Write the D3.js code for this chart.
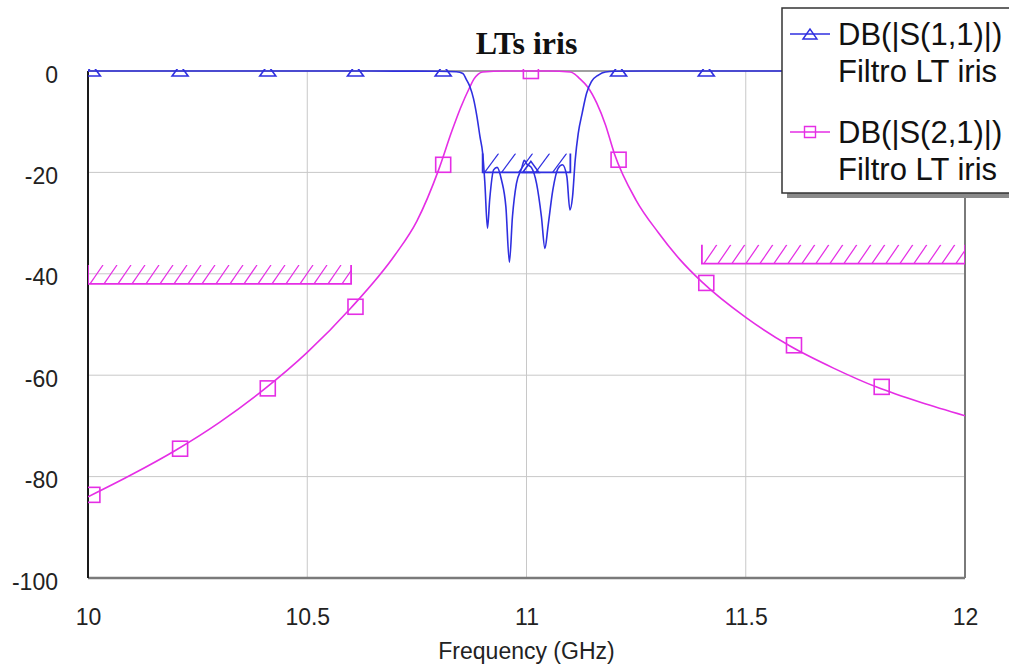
<!DOCTYPE html>
<html>
<head>
<meta charset="utf-8">
<script src="https://cdn.jsdelivr.net/npm/d3@7"></script>
<style>
  html, body { margin: 0; padding: 0; background: #fff; }
  svg { display: block; font-family: "Liberation Sans", Arial, sans-serif; }
</style>
</head>
<body>
<svg id="chart" width="1009" height="665"></svg>
<script>
const freqTicks = [10, 10.5, 11, 11.5, 12];
const dbTicks = [0, -20, -40, -60, -80, -100];

// DB(|S(2,1)|)
const s21Freq = [10, 10.1, 10.2, 10.3, 10.4, 10.5, 10.6, 10.7, 10.75, 10.8, 10.83, 10.85,
  10.87, 10.88, 10.89, 10.9, 10.95, 11.0, 11.05, 11.1, 11.11, 11.12, 11.14, 11.16,
  11.18, 11.2, 11.25, 11.3, 11.35, 11.4, 11.5, 11.6, 11.7, 11.8, 11.9, 12];
const s21Db = [-84, -79.6, -74.8, -69.3, -62.9, -55.5, -46.7, -36.3, -29.6, -19.4, -11.8, -7.2,
  -3.3, -1.6, -0.6, -0.2, 0, 0, 0, -0.2, -0.6, -1.4, -3.2, -6.3,
  -10.6, -16.2, -25.5, -31.8, -37.2, -41.6, -48.6, -54.2, -58.6, -62.4, -65.4, -68];

// DB(|S(1,1)|)
const s11Freq = [10, 10.2, 10.4, 10.6, 10.7, 10.8, 10.84, 10.855, 10.863, 10.871, 10.879,
  10.887, 10.894, 10.9, 10.905, 10.911, 10.916, 10.925, 10.933, 10.943, 10.953, 10.961,
  10.968, 10.977, 10.989, 10.995, 11.0, 11.011, 11.023, 11.034, 11.042, 11.049, 11.06,
  11.072, 11.082, 11.092, 11.099, 11.105, 11.111, 11.118, 11.127, 11.137, 11.148, 11.164,
  11.18, 11.2, 11.3, 11.4, 11.6, 11.8, 12];
const s11Db = [0, 0, 0, 0, -0.02, -0.05, -0.15, -0.5, -1.7, -3.1, -5.4,
  -9, -13, -16.2, -22, -31, -25.4, -19.5, -19, -21.5, -26.8, -37.7,
  -28.7, -22.2, -19.2, -17.6, -18.3, -19, -22.2, -28.7, -35, -30.7, -23.5,
  -19.2, -18.5, -20.8, -27.4, -24.8, -17.6, -12.3, -8.3, -4.4, -2.1, -0.8,
  -0.2, -0.05, 0, 0, 0, 0, 0];

// marker symbols (sit slightly right of the round frequencies)
const markerFreq = [10.01, 10.21, 10.41, 10.61, 10.81, 11.01, 11.21, 11.41, 11.61, 11.81];
const s21MarkerDb = [-83.6, -74.5, -62.6, -46.5, -18.5, 0, -17.5, -41.8, -54.1, -62.3];
const s11MarkerDb = [0, 0, 0, 0, 0, -19, 0, 0, 0, 0];

// goal masks
const maskSeries = ["s21", "s21", "s11"];
const maskStart = [10, 11.4, 10.9];
const maskEnd = [10.6, 12, 11.1];
const maskLevel = [-42, -38, -20];

const legendLabels = [["DB(|S(1,1)|)", "Filtro LT iris"], ["DB(|S(2,1)|)", "Filtro LT iris"]];

const BLUE = "#2f2fe0";
const MAGENTA = "#e52ee5";
const colors = { s11: BLUE, s21: MAGENTA };

const svg = d3.select("#chart");
const plotLeft = 88, plotRight = 965, plotTop = 71, plotBottom = 578;

const x = d3.scaleLinear().domain([10, 12]).range([plotLeft, plotRight]);
const y = d3.scaleLinear().domain([-100, 0]).range([plotBottom, plotTop]);

const defs = svg.append("defs");
defs.append("clipPath").attr("id", "plotClip")
  .append("rect")
  .attr("x", plotLeft).attr("y", plotTop - 2)
  .attr("width", plotRight - plotLeft).attr("height", plotBottom - plotTop + 2);

// grid
svg.append("g")
  .selectAll("line")
  .data(freqTicks.slice(1, -1))
  .join("line")
  .attr("x1", (d) => x(d)).attr("x2", (d) => x(d))
  .attr("y1", plotTop).attr("y2", plotBottom)
  .attr("stroke", "#c8c8c8").attr("stroke-width", 1);

svg.append("g")
  .selectAll("line")
  .data(dbTicks.slice(1, -1))
  .join("line")
  .attr("x1", plotLeft).attr("x2", plotRight)
  .attr("y1", (d) => y(d)).attr("y2", (d) => y(d))
  .attr("stroke", "#c8c8c8").attr("stroke-width", 1);

// frame
svg.append("line").attr("x1", plotLeft).attr("x2", plotRight).attr("y1", plotTop).attr("y2", plotTop)
  .attr("stroke", "#808080").attr("stroke-width", 1.5);
svg.append("line").attr("x1", plotLeft).attr("x2", plotRight).attr("y1", plotBottom).attr("y2", plotBottom)
  .attr("stroke", "#7a7a7a").attr("stroke-width", 2.5);
svg.append("line").attr("x1", plotRight).attr("x2", plotRight).attr("y1", plotTop).attr("y2", plotBottom)
  .attr("stroke", "#7a7a7a").attr("stroke-width", 2);
svg.append("line").attr("x1", plotLeft).attr("x2", plotLeft).attr("y1", plotTop).attr("y2", plotBottom)
  .attr("stroke", "#1a1a1a").attr("stroke-width", 2);

// axes (labels only)
svg.append("g")
  .attr("transform", `translate(0,${plotBottom})`)
  .call(d3.axisBottom(x).tickValues(freqTicks).tickSize(0).tickFormat((d) => String(d)))
  .call((g) => g.select(".domain").remove())
  .call((g) => g.selectAll("text")
    .attr("y", 47).attr("dy", null)
    .attr("font-size", 23).attr("fill", "#222")
    .attr("font-family", "'Liberation Sans', Arial, sans-serif"));

svg.append("g")
  .attr("transform", `translate(${plotLeft},0)`)
  .call(d3.axisLeft(y).tickValues(dbTicks).tickSize(0).tickFormat((d) => String(d)))
  .call((g) => g.select(".domain").remove())
  .call((g) => g.selectAll("text")
    .attr("x", -30).attr("dy", 11)
    .attr("font-size", 23).attr("fill", "#222")
    .attr("font-family", "'Liberation Sans', Arial, sans-serif"));

svg.append("text")
  .attr("x", (plotLeft + plotRight) / 2).attr("y", 659)
  .attr("text-anchor", "middle")
  .attr("font-size", 23).attr("fill", "#222")
  .text("Frequency (GHz)");

svg.append("text")
  .attr("x", (plotLeft + plotRight) / 2).attr("y", 54)
  .attr("text-anchor", "middle")
  .attr("font-family", "'Liberation Serif', 'Times New Roman', serif")
  .attr("font-weight", "bold").attr("font-size", 32).attr("fill", "#111")
  .text("LTs iris");

const plot = svg.append("g").attr("clip-path", "url(#plotClip)");

// masks with hatching
const hatchH = 19;
maskLevel.forEach((level, i) => {
  const color = colors[maskSeries[i]];
  const x0 = x(maskStart[i]), x1 = x(maskEnd[i]), yl = y(level);
  const step = maskSeries[i] === "s11" ? 17 : 14;
  const dx = maskSeries[i] === "s11" ? 14 : 13;
  const g = plot.append("g").attr("stroke", color).attr("fill", "none");
  const clipId = `maskClip${i}`;
  defs.append("clipPath").attr("id", clipId)
    .append("rect").attr("x", x0).attr("y", yl - hatchH).attr("width", x1 - x0).attr("height", hatchH);
  g.append("g").attr("clip-path", `url(#${clipId})`)
    .selectAll("line")
    .data(d3.range(x0 + 2, x1 + dx, step))
    .join("line")
    .attr("x1", (d) => d).attr("y1", yl)
    .attr("x2", (d) => d + dx).attr("y2", yl - hatchH)
    .attr("stroke-width", 1.2);
  g.append("path")
    .attr("d", `M${x0},${yl - hatchH}V${yl}H${x1}V${yl - hatchH}`)
    .attr("stroke-width", 1.8);
});

const lineGen = d3.line()
  .x((d) => x(d[0]))
  .y((d) => y(d[1]))
  .curve(d3.curveMonotoneX);

const s21Points = s21Freq.map((f, i) => [f, s21Db[i]]);
const s11Points = s11Freq.map((f, i) => [f, s11Db[i]]);

plot.append("path").datum(s21Points)
  .attr("d", lineGen).attr("fill", "none")
  .attr("stroke", MAGENTA).attr("stroke-width", 1.6);

plot.append("path").datum(s11Points)
  .attr("d", lineGen).attr("fill", "none")
  .attr("stroke", BLUE).attr("stroke-width", 1.6);

const triangle = (cx, cy) => `M${cx - 8},${cy + 5}L${cx},${cy - 6}L${cx + 8},${cy + 5}Z`;

plot.append("g")
  .selectAll("rect")
  .data(markerFreq.map((f, i) => [f, s21MarkerDb[i]]))
  .join("rect")
  .attr("x", (d) => x(d[0]) - 7.5).attr("y", (d) => y(d[1]) - 7.5)
  .attr("width", 15).attr("height", 15)
  .attr("fill", "none").attr("stroke", MAGENTA).attr("stroke-width", 1.6);

plot.append("g")
  .selectAll("path")
  .data(markerFreq.map((f, i) => [f, s11MarkerDb[i]]))
  .join("path")
  .attr("d", (d) => triangle(x(d[0]), y(d[1])))
  .attr("fill", "none").attr("stroke", BLUE).attr("stroke-width", 1.6);

// legend
const legend = svg.append("g");
legend.append("rect")
  .attr("x", 787).attr("y", 13).attr("width", 260).attr("height", 185)
  .attr("fill", "#8a8a8a");
legend.append("rect")
  .attr("x", 782).attr("y", 8).attr("width", 260).attr("height", 185)
  .attr("fill", "#fff").attr("stroke", "#333").attr("stroke-width", 1.5);

const legendRows = legend.selectAll("g.entry")
  .data(legendLabels)
  .join("g")
  .attr("class", "entry")
  .attr("transform", (d, i) => `translate(0,${i * 98})`);

legendRows.append("line")
  .attr("x1", 790).attr("x2", 830).attr("y1", 34).attr("y2", 34)
  .attr("stroke", (d, i) => (i === 0 ? BLUE : MAGENTA)).attr("stroke-width", 1.4);

legendRows.append("path")
  .attr("d", (d, i) => (i === 0
    ? "M803,39L810,29L817,39Z"
    : "M804.5,28.5h11v11h-11Z"))
  .attr("fill", "none")
  .attr("stroke", (d, i) => (i === 0 ? BLUE : MAGENTA)).attr("stroke-width", 1.4);

legendRows.selectAll("text")
  .data((d) => d)
  .join("text")
  .attr("x", 838)
  .attr("y", (d, i) => 45 + i * 37)
  .attr("font-size", 31).attr("fill", "#111")
  .text((d) => d);
</script>
</body>
</html>
